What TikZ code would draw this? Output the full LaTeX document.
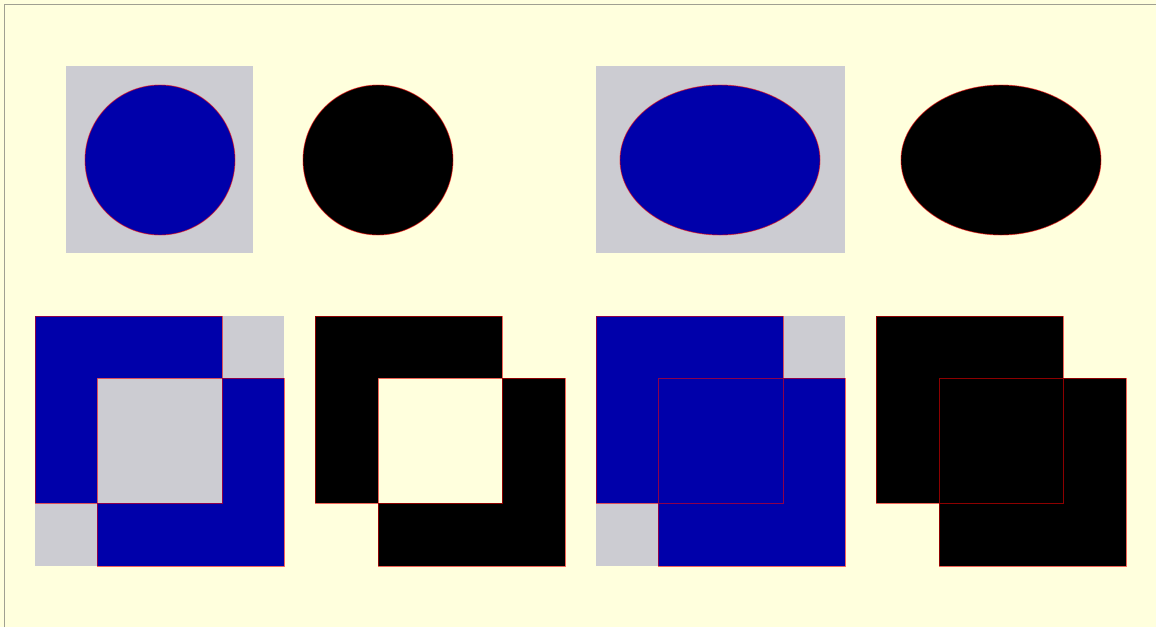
\documentclass[tikz,border=0pt]{standalone}
\usepackage{xcolor}
\usepackage{tikz}
\definecolor{paper}{RGB}{255,255,221}
\definecolor{frameline}{RGB}{160,160,145}
\definecolor{panelgray}{RGB}{204,204,210}
\definecolor{deepblue}{RGB}{0,0,170}
\tikzstyle{panel}=[fill=panelgray]
\tikzstyle{blueshape}=[fill=deepblue,draw=red,draw opacity=0.55,line width=0.9pt]
\tikzstyle{blackshape}=[fill=black,draw=red,draw opacity=0.55,line width=0.9pt]

\begin{document}
\begin{tikzpicture}[x=1pt,y=-1pt]
  % page and frame
  \fill[paper] (0,0) rectangle (1156,627);
  \useasboundingbox (0,0) rectangle (1156,627);
  \draw[frameline,line width=1pt] (4,627) -- (4,4) -- (1156,4);

  % top row: circles and ellipses
  \fill[panel] (66,66) rectangle (253,253);
  \filldraw[blueshape] (160,160) circle [radius=75];
  \filldraw[blackshape] (378,160) circle [radius=75];
  \fill[panel] (596,66) rectangle (845,253);
  \filldraw[blueshape] (720,160) ellipse [x radius=100,y radius=75];
  \filldraw[blackshape] (1001,160) ellipse [x radius=100,y radius=75];

  % bottom row: even odd
  \fill[panel] (35,316) rectangle (284,566);
  \filldraw[blueshape,even odd rule] (35,316) rectangle (222,503)
                                     (97,378) rectangle (284,566);
  \filldraw[blackshape,even odd rule] (315,316) rectangle (502,503)
                                      (378,378) rectangle (565,566);

  % bottom row: nonzero
  \fill[panel] (596,316) rectangle (845,566);
  \filldraw[blueshape] (596,316) rectangle (783,503)
                       (658,378) rectangle (845,566);
  \filldraw[blackshape] (876,316) rectangle (1063,503)
                        (939,378) rectangle (1126,566);
\end{tikzpicture}
\end{document}
